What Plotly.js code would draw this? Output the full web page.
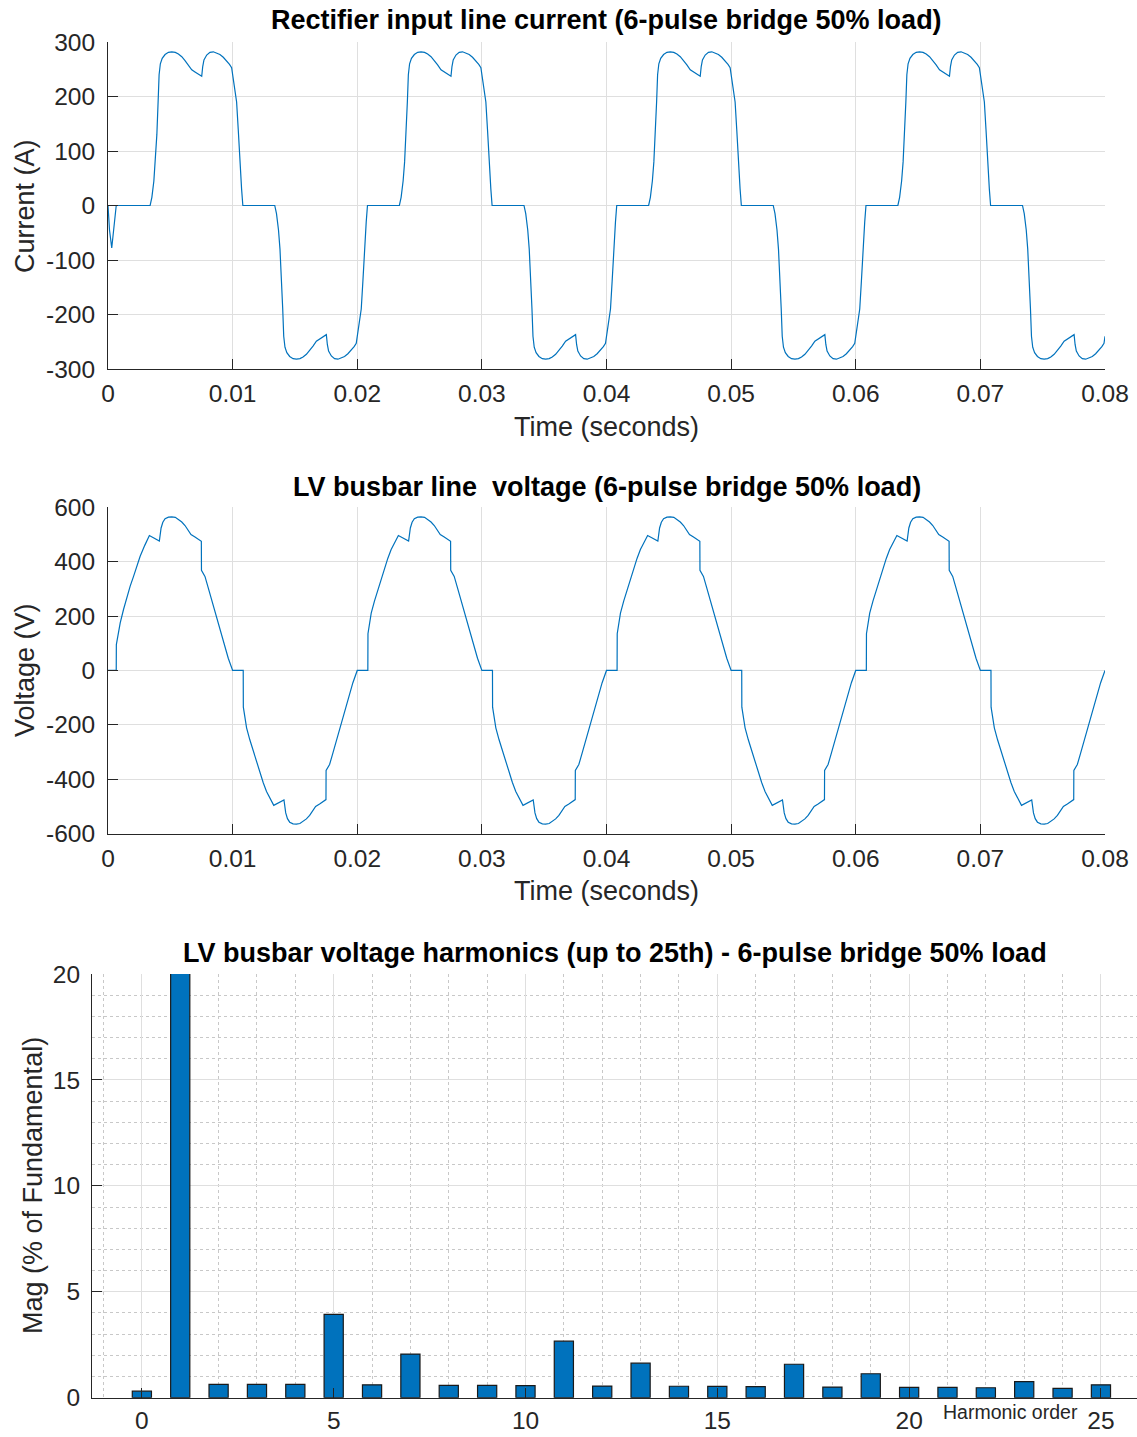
<!DOCTYPE html>
<html>
<head>
<meta charset="utf-8">
<script src="https://cdn.plot.ly/plotly-3.0.1.min.js"></script>
<style>
html,body{margin:0;padding:0;background:#fff;}
#chart{width:1137px;height:1437px;}
</style>
</head>
<body>
<div id="chart"></div>
<script>
// ---------- Data ----------
// Rectifier input line current (A) vs time (s)
const currentTime = [
  0, 0.00012, 0.0003, 0.00045, 0.00066, 0.00338, 0.00352, 0.00368, 0.0038, 0.00392, 0.00402, 0.0041, 0.0042, 0.00435, 0.00458, 0.00485, 0.00512, 0.0054, 0.00565, 0.00592, 0.00618, 0.00645, 0.00672, 0.00698, 0.00725, 0.00752, 0.0076, 0.0077, 0.00792, 0.00818, 0.00845, 0.00872, 0.00898, 0.00925, 0.00952, 0.00975, 0.00992,
  0.01, 0.01015, 0.01032, 0.01045, 0.01058, 0.01072, 0.01082, 0.01338, 0.01352, 0.01368, 0.0138, 0.01392, 0.01402, 0.0141, 0.0142, 0.01435, 0.01458, 0.01485, 0.01512, 0.0154, 0.01565, 0.01592, 0.01618, 0.01645, 0.01672, 0.01698, 0.01725, 0.01752, 0.0176, 0.0177, 0.01792, 0.01818, 0.01845, 0.01872, 0.01898, 0.01925, 0.01952, 0.01975, 0.01992,
  0.02, 0.02015, 0.02032, 0.02045, 0.02058, 0.02072, 0.02082, 0.02338, 0.02352, 0.02368, 0.0238, 0.02392, 0.02402, 0.0241, 0.0242, 0.02435, 0.02458, 0.02485, 0.02512, 0.0254, 0.02565, 0.02592, 0.02618, 0.02645, 0.02672, 0.02698, 0.02725, 0.02752, 0.0276, 0.0277, 0.02792, 0.02818, 0.02845, 0.02872, 0.02898, 0.02925, 0.02952, 0.02975, 0.02992,
  0.03, 0.03015, 0.03032, 0.03045, 0.03058, 0.03072, 0.03082, 0.03338, 0.03352, 0.03368, 0.0338, 0.03392, 0.03402, 0.0341, 0.0342, 0.03435, 0.03458, 0.03485, 0.03512, 0.0354, 0.03565, 0.03592, 0.03618, 0.03645, 0.03672, 0.03698, 0.03725, 0.03752, 0.0376, 0.0377, 0.03792, 0.03818, 0.03845, 0.03872, 0.03898, 0.03925, 0.03952, 0.03975, 0.03992,
  0.04, 0.04015, 0.04032, 0.04045, 0.04058, 0.04072, 0.04082, 0.04338, 0.04352, 0.04368, 0.0438, 0.04392, 0.04402, 0.0441, 0.0442, 0.04435, 0.04458, 0.04485, 0.04512, 0.0454, 0.04565, 0.04592, 0.04618, 0.04645, 0.04672, 0.04698, 0.04725, 0.04752, 0.0476, 0.0477, 0.04792, 0.04818, 0.04845, 0.04872, 0.04898, 0.04925, 0.04952, 0.04975, 0.04992,
  0.05, 0.05015, 0.05032, 0.05045, 0.05058, 0.05072, 0.05082, 0.05338, 0.05352, 0.05368, 0.0538, 0.05392, 0.05402, 0.0541, 0.0542, 0.05435, 0.05458, 0.05485, 0.05512, 0.0554, 0.05565, 0.05592, 0.05618, 0.05645, 0.05672, 0.05698, 0.05725, 0.05752, 0.0576, 0.0577, 0.05792, 0.05818, 0.05845, 0.05872, 0.05898, 0.05925, 0.05952, 0.05975, 0.05992,
  0.06, 0.06015, 0.06032, 0.06045, 0.06058, 0.06072, 0.06082, 0.06338, 0.06352, 0.06368, 0.0638, 0.06392, 0.06402, 0.0641, 0.0642, 0.06435, 0.06458, 0.06485, 0.06512, 0.0654, 0.06565, 0.06592, 0.06618, 0.06645, 0.06672, 0.06698, 0.06725, 0.06752, 0.0676, 0.0677, 0.06792, 0.06818, 0.06845, 0.06872, 0.06898, 0.06925, 0.06952, 0.06975, 0.06992,
  0.07, 0.07015, 0.07032, 0.07045, 0.07058, 0.07072, 0.07082, 0.07338, 0.07352, 0.07368, 0.0738, 0.07392, 0.07402, 0.0741, 0.0742, 0.07435, 0.07458, 0.07485, 0.07512, 0.0754, 0.07565, 0.07592, 0.07618, 0.07645, 0.07672, 0.07698, 0.07725, 0.07752, 0.0776, 0.0777, 0.07792, 0.07818, 0.07845, 0.07872, 0.07898, 0.07925, 0.07952, 0.07975, 0.07992,
  0.08
];
const currentAmps = [
  0, -45, -78, -50, 0, 0, 15, 45, 80, 130, 190, 240, 260, 270, 277, 281, 282, 281, 278, 273, 266, 258, 249, 245, 241, 237, 255, 267, 276, 281, 282, 280, 277, 272, 266, 259, 253,
  240, 225, 190, 140, 80, 30, 0, 0, -15, -45, -80, -130, -190, -240, -260, -270, -277, -281, -282, -281, -278, -273, -266, -258, -249, -245, -241, -237, -255, -267, -276, -281, -282, -280, -277, -272, -266, -259, -253,
  -240, -225, -190, -140, -80, -30, 0, 0, 15, 45, 80, 130, 190, 240, 260, 270, 277, 281, 282, 281, 278, 273, 266, 258, 249, 245, 241, 237, 255, 267, 276, 281, 282, 280, 277, 272, 266, 259, 253,
  240, 225, 190, 140, 80, 30, 0, 0, -15, -45, -80, -130, -190, -240, -260, -270, -277, -281, -282, -281, -278, -273, -266, -258, -249, -245, -241, -237, -255, -267, -276, -281, -282, -280, -277, -272, -266, -259, -253,
  -240, -225, -190, -140, -80, -30, 0, 0, 15, 45, 80, 130, 190, 240, 260, 270, 277, 281, 282, 281, 278, 273, 266, 258, 249, 245, 241, 237, 255, 267, 276, 281, 282, 280, 277, 272, 266, 259, 253,
  240, 225, 190, 140, 80, 30, 0, 0, -15, -45, -80, -130, -190, -240, -260, -270, -277, -281, -282, -281, -278, -273, -266, -258, -249, -245, -241, -237, -255, -267, -276, -281, -282, -280, -277, -272, -266, -259, -253,
  -240, -225, -190, -140, -80, -30, 0, 0, 15, 45, 80, 130, 190, 240, 260, 270, 277, 281, 282, 281, 278, 273, 266, 258, 249, 245, 241, 237, 255, 267, 276, 281, 282, 280, 277, 272, 266, 259, 253,
  240, 225, 190, 140, 80, 30, 0, 0, -15, -45, -80, -130, -190, -240, -260, -270, -277, -281, -282, -281, -278, -273, -266, -258, -249, -245, -241, -237, -255, -267, -276, -281, -282, -280, -277, -272, -266, -259, -253,
  -240
];

// LV busbar line voltage (V) vs time (s)
const voltageTime = [
  0, 0.00066, 0.00067, 0.00098, 0.00125, 0.00152, 0.00178, 0.00205, 0.00232, 0.00258, 0.00295, 0.00332, 0.00412, 0.00418, 0.00426, 0.0044, 0.00458, 0.00485, 0.00512, 0.0054, 0.00565, 0.00592, 0.00618, 0.00645, 0.00666, 0.00698, 0.00749, 0.0075, 0.00778, 0.00805, 0.00832, 0.00858, 0.00885, 0.00912, 0.00938, 0.00965,
  0.01, 0.01085, 0.01086, 0.01112, 0.01138, 0.01165, 0.01192, 0.01218, 0.01245, 0.01272, 0.013, 0.0133, 0.01412, 0.01418, 0.01426, 0.0144, 0.01458, 0.01485, 0.01512, 0.0154, 0.01565, 0.01592, 0.01618, 0.01645, 0.01666, 0.01698, 0.01749, 0.0175, 0.01778, 0.01805, 0.01832, 0.01858, 0.01885, 0.01912, 0.01938, 0.01965,
  0.02, 0.02085, 0.02086, 0.02112, 0.02138, 0.02165, 0.02192, 0.02218, 0.02245, 0.02272, 0.023, 0.0233, 0.02412, 0.02418, 0.02426, 0.0244, 0.02458, 0.02485, 0.02512, 0.0254, 0.02565, 0.02592, 0.02618, 0.02645, 0.02666, 0.02698, 0.02749, 0.0275, 0.02778, 0.02805, 0.02832, 0.02858, 0.02885, 0.02912, 0.02938, 0.02965,
  0.03, 0.03085, 0.03086, 0.03112, 0.03138, 0.03165, 0.03192, 0.03218, 0.03245, 0.03272, 0.033, 0.0333, 0.03412, 0.03418, 0.03426, 0.0344, 0.03458, 0.03485, 0.03512, 0.0354, 0.03565, 0.03592, 0.03618, 0.03645, 0.03666, 0.03698, 0.03749, 0.0375, 0.03778, 0.03805, 0.03832, 0.03858, 0.03885, 0.03912, 0.03938, 0.03965,
  0.04, 0.04085, 0.04086, 0.04112, 0.04138, 0.04165, 0.04192, 0.04218, 0.04245, 0.04272, 0.043, 0.0433, 0.04412, 0.04418, 0.04426, 0.0444, 0.04458, 0.04485, 0.04512, 0.0454, 0.04565, 0.04592, 0.04618, 0.04645, 0.04666, 0.04698, 0.04749, 0.0475, 0.04778, 0.04805, 0.04832, 0.04858, 0.04885, 0.04912, 0.04938, 0.04965,
  0.05, 0.05085, 0.05086, 0.05112, 0.05138, 0.05165, 0.05192, 0.05218, 0.05245, 0.05272, 0.053, 0.0533, 0.05412, 0.05418, 0.05426, 0.0544, 0.05458, 0.05485, 0.05512, 0.0554, 0.05565, 0.05592, 0.05618, 0.05645, 0.05666, 0.05698, 0.05749, 0.0575, 0.05778, 0.05805, 0.05832, 0.05858, 0.05885, 0.05912, 0.05938, 0.05965,
  0.06, 0.06085, 0.06086, 0.06112, 0.06138, 0.06165, 0.06192, 0.06218, 0.06245, 0.06272, 0.063, 0.0633, 0.06412, 0.06418, 0.06426, 0.0644, 0.06458, 0.06485, 0.06512, 0.0654, 0.06565, 0.06592, 0.06618, 0.06645, 0.06666, 0.06698, 0.06749, 0.0675, 0.06778, 0.06805, 0.06832, 0.06858, 0.06885, 0.06912, 0.06938, 0.06965,
  0.07, 0.07085, 0.07086, 0.07112, 0.07138, 0.07165, 0.07192, 0.07218, 0.07245, 0.07272, 0.073, 0.0733, 0.07412, 0.07418, 0.07426, 0.0744, 0.07458, 0.07485, 0.07512, 0.0754, 0.07565, 0.07592, 0.07618, 0.07645, 0.07666, 0.07698, 0.07749, 0.0775, 0.07778, 0.07805, 0.07832, 0.07858, 0.07885, 0.07912, 0.07938, 0.07965,
  0.08
];
const voltageVolts = [
  0, 0, 95, 175, 225, 273, 310, 346, 385, 420, 460, 496, 476, 505, 524, 545, 558, 564, 565, 563, 556, 546, 533, 515, 500, 491, 475, 368, 346, 303, 260, 218, 175, 131, 88, 45,
  0, 0, -135, -211, -255, -297, -338, -377, -412, -445, -472, -496, -476, -505, -524, -545, -558, -564, -565, -563, -556, -546, -533, -515, -500, -491, -475, -368, -346, -303, -260, -218, -175, -131, -88, -45,
  0, 0, 135, 211, 255, 297, 338, 377, 412, 445, 472, 496, 476, 505, 524, 545, 558, 564, 565, 563, 556, 546, 533, 515, 500, 491, 475, 368, 346, 303, 260, 218, 175, 131, 88, 45,
  0, 0, -135, -211, -255, -297, -338, -377, -412, -445, -472, -496, -476, -505, -524, -545, -558, -564, -565, -563, -556, -546, -533, -515, -500, -491, -475, -368, -346, -303, -260, -218, -175, -131, -88, -45,
  0, 0, 135, 211, 255, 297, 338, 377, 412, 445, 472, 496, 476, 505, 524, 545, 558, 564, 565, 563, 556, 546, 533, 515, 500, 491, 475, 368, 346, 303, 260, 218, 175, 131, 88, 45,
  0, 0, -135, -211, -255, -297, -338, -377, -412, -445, -472, -496, -476, -505, -524, -545, -558, -564, -565, -563, -556, -546, -533, -515, -500, -491, -475, -368, -346, -303, -260, -218, -175, -131, -88, -45,
  0, 0, 135, 211, 255, 297, 338, 377, 412, 445, 472, 496, 476, 505, 524, 545, 558, 564, 565, 563, 556, 546, 533, 515, 500, 491, 475, 368, 346, 303, 260, 218, 175, 131, 88, 45,
  0, 0, -135, -211, -255, -297, -338, -377, -412, -445, -472, -496, -476, -505, -524, -545, -558, -564, -565, -563, -556, -546, -533, -515, -500, -491, -475, -368, -346, -303, -260, -218, -175, -131, -88, -45,
  0
];

// Harmonic spectrum (% of fundamental)
const harmonicOrder = [0, 1, 2, 3, 4, 5, 6, 7, 8, 9, 10, 11, 12, 13, 14, 15, 16, 17, 18, 19, 20, 21, 22, 23, 24, 25];
const harmonicMag = [0.31, 100, 0.63, 0.63, 0.63, 3.93, 0.61, 2.06, 0.58, 0.58, 0.57, 2.67, 0.55, 1.63, 0.54, 0.53, 0.52, 1.58, 0.5, 1.13, 0.49, 0.49, 0.47, 0.755, 0.44, 0.61];

// Tick values and labels
const timeTickVals = [0, 0.01, 0.02, 0.03, 0.04, 0.05, 0.06, 0.07, 0.08];
const timeTickText = ['0', '0.01', '0.02', '0.03', '0.04', '0.05', '0.06', '0.07', '0.08'];
const currentTickVals = [-300, -200, -100, 0, 100, 200, 300];
const currentTickText = ['-300', '-200', '-100', '0', '100', '200', '300'];
const voltageTickVals = [-600, -400, -200, 0, 200, 400, 600];
const voltageTickText = ['-600', '-400', '-200', '0', '200', '400', '600'];
const harmTickVals = [0, 5, 10, 15, 20, 25];
const magTickVals = [0, 5, 10, 15, 20];

// ---------- Styling ----------
const W = 1137, H = 1437;
const FONT = '"Liberation Sans", Arial, Helvetica, sans-serif';
const TXT = '#262626';
const GRID = '#dfdfdf';
const BLUE = '#0072BD';
const TICK = 24.5, LABEL = 27, TITLE = 27;
const px = v => v / W;
const py = v => 1 - v / H;

function axisBase(extra) {
  return Object.assign({
    showline: true, linecolor: TXT, linewidth: 1, mirror: false,
    ticks: 'inside', ticklen: 10, tickwidth: 1, tickcolor: TXT,
    showgrid: true, gridcolor: GRID, gridwidth: 1, zeroline: false,
    tickfont: {family: FONT, size: TICK, color: TXT},
    fixedrange: true, layer: 'above traces'
  }, extra);
}

const traces = [
  {x: currentTime, y: currentAmps, type: 'scatter', mode: 'lines',
   line: {color: BLUE, width: 1.2}, xaxis: 'x', yaxis: 'y', hoverinfo: 'skip'},
  {x: voltageTime, y: voltageVolts, type: 'scatter', mode: 'lines',
   line: {color: BLUE, width: 1.2}, xaxis: 'x2', yaxis: 'y2', hoverinfo: 'skip'},
  {x: harmonicOrder, y: harmonicMag, type: 'bar', width: 0.5,
   marker: {color: BLUE, line: {color: '#1a1a1a', width: 1.2}},
   xaxis: 'x3', yaxis: 'y3', hoverinfo: 'skip'}
];

const minorGrid = {tickmode: 'linear', tick0: 0, dtick: 1, showgrid: true,
  gridcolor: '#c8c8c8', griddash: 'dot', gridwidth: 1, ticks: ''};

const layout = {
  width: W, height: H,
  margin: {l: 0, r: 0, t: 0, b: 0},
  paper_bgcolor: '#fff', plot_bgcolor: '#fff',
  showlegend: false,
  font: {family: FONT, color: TXT},
  xaxis: axisBase({domain: [px(108), px(1105)], anchor: 'y', range: [0, 0.08],
    tickmode: 'array', tickvals: timeTickVals, ticktext: timeTickText, ticklabelstandoff: 3}),
  yaxis: axisBase({domain: [py(369), py(42)], anchor: 'x', range: [-300, 300],
    tickmode: 'array', tickvals: currentTickVals, ticktext: currentTickText, ticklabelstandoff: 7}),
  xaxis2: axisBase({domain: [px(108), px(1105)], anchor: 'y2', range: [0, 0.08],
    tickmode: 'array', tickvals: timeTickVals, ticktext: timeTickText, ticklabelstandoff: 3}),
  yaxis2: axisBase({domain: [py(833.6), py(507.3)], anchor: 'x2', range: [-600, 600],
    tickmode: 'array', tickvals: voltageTickVals, ticktext: voltageTickText, ticklabelstandoff: 7}),
  xaxis3: axisBase({domain: [px(92), 1], anchor: 'y3', range: [-1.3, 25.94],
    tickmode: 'array', tickvals: harmTickVals, ticklabelstandoff: 1, minor: minorGrid}),
  yaxis3: axisBase({domain: [py(1397.7), py(974)], anchor: 'x3', range: [0, 20],
    tickmode: 'array', tickvals: magTickVals, ticklabelstandoff: 6, minor: minorGrid}),
  annotations: [
    {text: 'Rectifier input line current (6-pulse bridge 50% load)', x: px(606.5), y: py(20), font: {size: TITLE, weight: 'bold', color: '#000'}},
    {text: 'LV busbar line  voltage (6-pulse bridge 50% load)', x: px(606.5), y: py(487), font: {size: TITLE, weight: 'bold', color: '#000'}},
    {text: 'LV busbar voltage harmonics (up to 25th) - 6-pulse bridge 50% load', x: px(614.5), y: py(953), font: {size: TITLE, weight: 'bold', color: '#000'}},
    {text: 'Time (seconds)', x: px(606.5), y: py(427), font: {size: LABEL, color: TXT}},
    {text: 'Time (seconds)', x: px(606.5), y: py(891), font: {size: LABEL, color: TXT}},
    {text: 'Current (A)', x: px(25), y: py(206), textangle: -90, font: {size: LABEL, color: TXT}},
    {text: 'Voltage (V)', x: px(25), y: py(670), textangle: -90, font: {size: LABEL, color: TXT}},
    {text: 'Mag (% of Fundamental)', x: px(33), y: py(1186), textangle: -90, font: {size: LABEL, color: TXT}},
    {text: 'Harmonic order', x: px(1010), y: py(1412), font: {size: 19.5, color: TXT}}
  ].map(a => Object.assign({xref: 'paper', yref: 'paper', showarrow: false,
    xanchor: 'center', yanchor: 'middle'}, a, {font: Object.assign({family: FONT}, a.font)}))
};

Plotly.newPlot('chart', traces, layout, {staticPlot: true, displayModeBar: false});
</script>
</body>
</html>
